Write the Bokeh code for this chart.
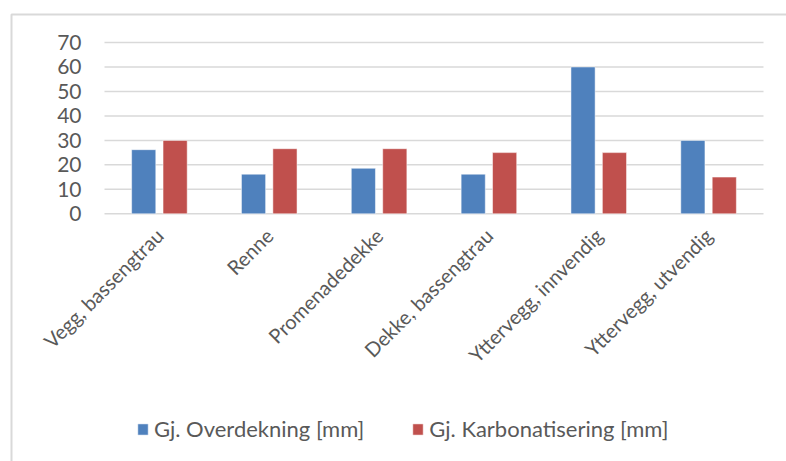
import math

from bokeh.plotting import figure
from bokeh.models import ColumnDataSource, Range1d, FixedTicker, Legend, LegendItem
from bokeh.transform import dodge
from bokeh.embed import file_html
from bokeh.resources import INLINE

# Data
categories = ["Vegg, bassengtrau", "Renne", "Promenadedekke",
              "Dekke, bassengtrau", "Yttervegg, innvendig", "Yttervegg, utvendig"]
overdekning = [26.2, 16.2, 18.6, 16.2, 60.0, 30.0]
karbonatisering = [30.0, 26.6, 26.6, 25.0, 25.0, 15.0]
series_names = ["Gj. Overdekning [mm]", "Gj. Karbonatisering [mm]"]
y_ticks = [0, 10, 20, 30, 40, 50, 60, 70]

BLUE = "#4F81BD"
RED = "#C0504D"
TEXT = "#595959"
GRID = "#D9D9D9"
FONT = "Lato"
VALUE_FONT_SIZE = "21px"
CATEGORY_FONT_SIZE = "20px"
LEGEND_FONT_SIZE = "22px"

# Canvas layout (pixels): the whole canvas is the plot frame; the category
# band and value axis are mapped onto it.
W, H = 786, 461
BAND_LEFT, BAND_RIGHT = 104, 763      # x extent of the category band
Y_TOP_PX, Y_ZERO_PX = 42.0, 213.3     # pixel rows of the top tick and of 0
CHART_LEFT, CHART_TOP = 11, 14        # chart-area border

n = len(categories)
x_per_px = n / (BAND_RIGHT - BAND_LEFT)
y_per_px = y_ticks[-1] / (Y_ZERO_PX - Y_TOP_PX)
x_start = -BAND_LEFT * x_per_px
x_end = n + (W - BAND_RIGHT) * x_per_px
y_end = y_ticks[-1] + Y_TOP_PX * y_per_px
y_start = -(H - Y_ZERO_PX) * y_per_px

positions = [i + 0.5 for i in range(n)]
source = ColumnDataSource(dict(pos=positions, cat=categories,
                               over=overdekning, karb=karbonatisering))
grid_src = ColumnDataSource(dict(y=y_ticks, x0=[0] * len(y_ticks), x1=[n] * len(y_ticks)))

p = figure(
    x_range=Range1d(x_start, x_end),
    y_range=Range1d(y_start, y_end),
    width=W, height=H,
    output_backend="svg", toolbar_location=None,
    min_border=0,
)
p.outline_line_color = None
p.background_fill_color = "white"
p.border_fill_color = "white"
p.xgrid.grid_line_color = None
p.ygrid.grid_line_color = None

# Chart-area border: left and top edges, running off the canvas
border_x = x_start + CHART_LEFT * x_per_px
border_y = y_end - CHART_TOP * y_per_px
p.line(x=[border_x, border_x, x_end + 1], y=[y_start - 10, border_y, border_y],
       line_color=GRID, line_width=2)

# Horizontal gridlines across the category band
p.segment(x0="x0", x1="x1", y0="y", y1="y", source=grid_src,
          line_color=GRID, line_width=1.5)

r1 = p.vbar(x=dodge("pos", -0.143), top="over", width=0.22, source=source,
            fill_color=BLUE, line_color="white", line_alpha=0.5)
r2 = p.vbar(x=dodge("pos", 0.143), top="karb", width=0.22, source=source,
            fill_color=RED, line_color="white", line_alpha=0.5)

# Value axis, pinned to the left edge of the category band
p.yaxis.fixed_location = 0
p.yaxis.ticker = FixedTicker(ticks=y_ticks)
p.yaxis.axis_line_color = None
p.yaxis.major_tick_line_color = None
p.yaxis.minor_tick_line_color = None
p.yaxis.major_tick_out = 0
p.yaxis.major_label_standoff = 23
p.yaxis.major_label_text_font = FONT
p.yaxis.major_label_text_font_size = VALUE_FONT_SIZE
p.yaxis.major_label_text_color = TEXT

# Category axis, pinned to the zero line
p.xaxis.fixed_location = 0
p.xaxis.ticker = FixedTicker(ticks=positions)
p.xaxis.major_label_overrides = {pos: cat for pos, cat in zip(positions, categories)}
p.xaxis.axis_line_color = None
p.xaxis.major_tick_line_color = None
p.xaxis.minor_tick_line_color = None
p.xaxis.major_tick_out = 0
p.xaxis.major_label_orientation = math.pi / 4
p.xaxis.major_label_standoff = 18
p.xaxis.major_label_text_font = FONT
p.xaxis.major_label_text_font_size = CATEGORY_FONT_SIZE
p.xaxis.major_label_text_color = TEXT

legend = Legend(
    items=[LegendItem(label=series_names[0], renderers=[r1]),
           LegendItem(label=series_names[1], renderers=[r2])],
    orientation="horizontal",
    location=(136, 19),
    padding=0, margin=0, spacing=47, label_standoff=5,
    glyph_width=13, glyph_height=14,
    border_line_color=None, background_fill_alpha=0,
    label_text_font=FONT, label_text_font_size=LEGEND_FONT_SIZE, label_text_color=TEXT,
)
p.add_layout(legend)

open("out.html", "w").write(file_html(p, INLINE))
